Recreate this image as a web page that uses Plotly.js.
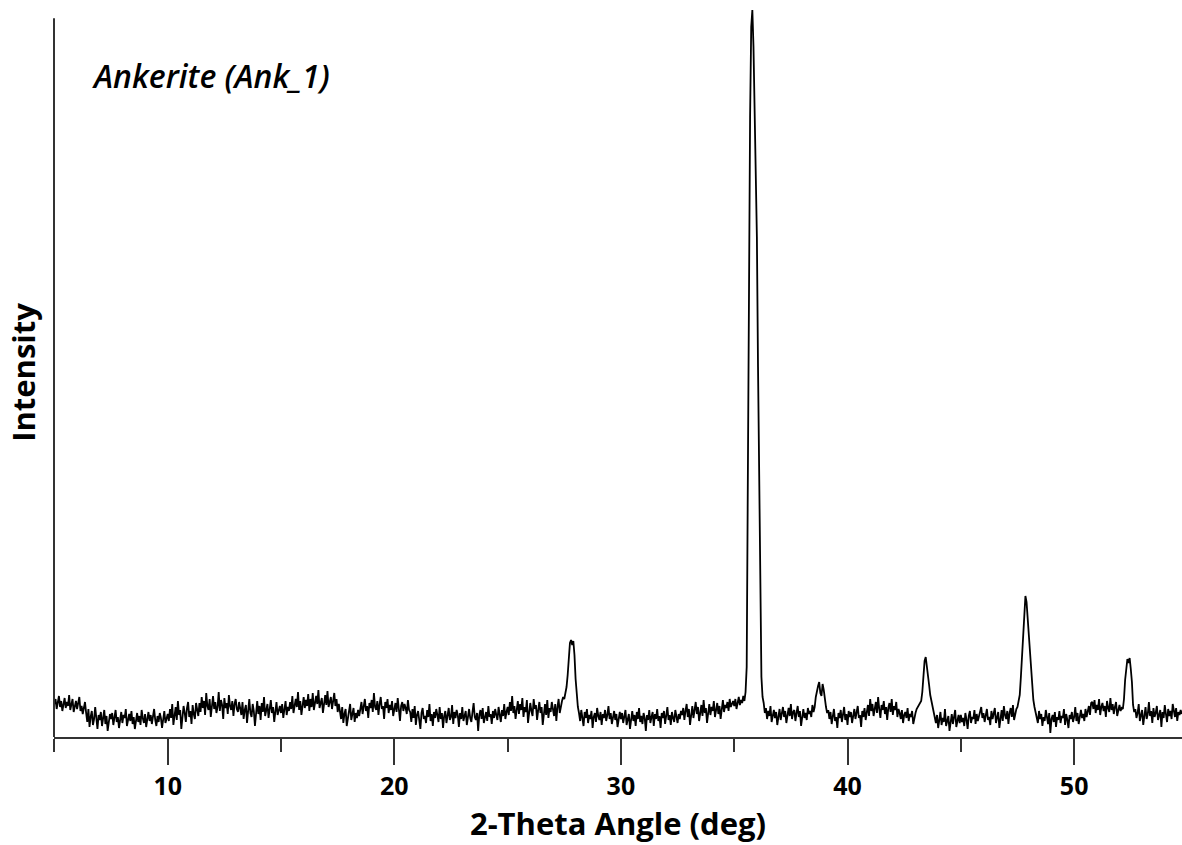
<!DOCTYPE html>
<html>
<head>
<meta charset="utf-8">
<script src="https://cdn.plot.ly/plotly-3.0.1.min.js"></script>
<style>html,body{margin:0;padding:0;background:#fff;}#chart{width:1182px;height:845px;}</style>
</head>
<body>
<div id="chart"></div>
<script>
// Scan grid (2-theta, degrees)
const thetaStart = 5.0;
const thetaStep = 0.05;

// Intensity, 5.00 - 14.95 deg
const int05to15 = [
  33,38,28,35,41,30,36,26,34,39,
  29,35,31,42,27,33,38,25,31,36,
  28,34,40,26,31,23,29,35,
  24,15,28,10,20,26,12,18,30,14,8,22,17,25,11,19,27,13,21,6,16,23,
  18,24,12,21,27,15,20,9,17,25,
  14,22,19,28,11,18,23,16,26,13,
  20,8,17,24,15,21,12,27,19,14,
  23,10,18,25,16,22,13,20,28,17,
  11,21,15,24,19,9,18,26,14,20,
  23,16,
  28,19,33,12,25,30,17,36,22,27,8,21,31,24,15,29,35,20,26,13,32,23,18,34,27,21,
  34,25,40,29,36,22,44,31,27,38,20,33,41,28,35,24,30,45,26,37,32,18,39,29,34,23,42,31,27,36,21,33,38,28,25,35,
  30,22,35,18,27,32,14,29,38,24,20,33,26,11,28,36,23,31,17,34,25,40,21,29,33,19,26,37,24,30,15,28,35,22,27,31
];
// 15.00 - 24.95 deg
const int15to25 = [
  24,33,19,29,36,22,30,26,
  35,28,41,24,33,38,30,45,27,36,22,34,40,29,37,31,43,26,
  38,30,44,27,36,41,33,47,29,35,39,24,37,42,32,46,30,36,40,28,34,44,31,38,25,33,
  26,18,30,14,23,28,11,20,25,33,17,22,29,15,24,19,27,21,
  28,35,23,32,38,26,31,19,34,29,
  37,25,44,30,27,36,22,33,40,28,
  31,18,35,29,38,24,32,27,36,21,
  30,34,25,39,28,16,31,35,26,33,
  29,23,37,27,
  25,15,28,19,31,12,22,26,17,8,
  24,29,18,21,14,27,20,33,16,23,
  11,25,19,28,22,15,30,18,24,9,
  21,26,14,23,29,17,20,32,13,25,
  19,27,22,10,24,18,30,16,21,26,
  12,23,28,19,15,25,34,20,17,24,
  6,22,27,18,29,14,21,25,16,31,
  20,23,13,26,19,28,22,17,30,24,
  15,27,21,33,18,25
];
// 25.00 - 34.95 deg
const int25to35 = [
  30,22,35,26,41,24,31,18,28,36,
  23,33,27,39,20,30,25,37,14,29,
  34,26,21,38,28,32,17,27,35,24,
  30,12,26,33,22,37,19,29,25,35,
  28,21,33,16,30,38,24,31,
  36,40,38,44,50,62,80,94,97,92,96,82,58,38,
  30,24,16,27,21,11,25,19,28,14,
  22,18,26,9,20,24,15,29,21,17,
  25,12,23,19,27,16,22,31,18,24,
  13,21,26,17,23,10,20,25,
  18,24,14,21,27,12,19,23,8,20,
  26,16,22,11,25,18,29,15,21,13,
  24,19,6,22,17,27,14,20,25,11,
  23,18,28,16,21,9,24,19,26,13,
  20,30,17,22,12,25,19,15,27,21,
  14,23,18,26,
  22,29,17,26,33,20,28,12,25,31,
  19,27,35,23,30,16,26,32,21,37,
  24,29,14,27,33,22,30,26,36,20,
  28,34,23,31,18,27,37,25,32,29,
  35,26,38,30,33,36
];
// 35.00 - 44.95 deg
const int35to45 = [
  31,38,28,35,40,32,37,34,41,36,
  45,70,270,470,620,710,727,690,620,560,500,370,240,120,60,40,
  34,24,29,18,26,21,31,15,23,27,
  19,25,12,22,28,17,24,30,20,26,
  14,23,29,21,33,18,25,27,16,24,
  31,20,26,11,22,28,19,24,17,29,
  23,26,20,32,25,30,
  40,47,51,55,44,41,53,47,36,30,24,27,
  18,25,13,22,28,16,20,9,24,19,
  27,15,22,30,17,23,12,26,20,25,
  14,21,28,18,24,31,19,22,10,26,
  20,29,17,24,32,21,
  38,26,33,21,30,35,24,40,28,19,
  32,27,36,23,30,17,29,34,25,38,
  22,31,27,35,20,28,
  24,18,27,14,22,25,19,29,16,23,20,26,13,21,24,28,
  30,32,33,36,45,64,76,80,72,64,52,42,36,30,25,
  20,14,22,9,17,25,12,19,15,28,11,18,21,6,16,23,13,20,27,10,17,22,14
];
// 45.00 - 54.75 deg
const int45to55 = [
  22,15,19,11,24,17,8,21,26,14,
  20,18,27,13,23,16,21,25,30,19,
  24,15,22,28,17,20,12,26,18,23,
  29,14,21,25,9,19,27,16,31,22,
  18,26,13,24,29,20,32,17,25,28,
  30,35,42,60,80,108,130,141,135,120,105,85,68,50,37,30,25,
  21,14,26,18,23,11,20,16,27,19,
  13,24,4,18,22,15,25,10,20,17,
  26,14,21,19,28,12,23,17,9,22,
  18,25,15,20,30,16,24,13,21,27,
  19,23,16,28,20,25,31,22,34,
  35,28,37,24,32,27,38,22,30,34,
  26,31,20,36,29,25,39,27,33,23,
  30,35,21,28,32,26,29,
  28,38,57,70,78,74,79,68,55,32,25,
  28,19,24,33,16,22,27,12,25,30,
  18,23,35,21,26,14,29,20,24,31,
  17,22,27,10,25,19,32,23,15,28,
  21,26,18,33,24,20,29,16,25,22,
  27,23
];

const xTickVals = [10, 20, 30, 40, 50];
const xTickText = ['10', '20', '30', '40', '50'];

const intensity = [].concat(int05to15, int15to25, int25to35, int35to45, int45to55);
const twoTheta = intensity.map((_, i) => +(thetaStart + i * thetaStep).toFixed(2));

const FONT = '"Open Sans", "Noto Sans", "DejaVu Sans", sans-serif';

const trace = {
  x: twoTheta,
  y: intensity,
  type: 'scatter',
  mode: 'lines',
  line: {color: '#000000', width: 1.8},
  hoverinfo: 'x+y'
};

const layout = {
  width: 1182,
  height: 845,
  margin: {l: 54, r: 0, t: 8, b: 108},
  paper_bgcolor: '#ffffff',
  plot_bgcolor: '#ffffff',
  showlegend: false,
  xaxis: {
    range: [4.982, 54.76],
    tickmode: 'array',
    tickvals: xTickVals,
    ticktext: xTickText,
    ticks: 'outside',
    ticklen: 26,
    tickwidth: 2,
    tickcolor: '#333333',
    showline: true,
    linecolor: '#333333',
    linewidth: 2,
    showgrid: false,
    zeroline: false,
    ticklabelstandoff: 0,
    tickfont: {family: FONT, size: 25, color: '#000000', weight: 700},
    minor: {tickvals: [5, 15, 25, 35, 45, 55], ticks: 'outside', ticklen: 13, tickwidth: 2, tickcolor: '#333333', showgrid: false},
    title: {text: '2-Theta Angle (deg)', font: {family: FONT, size: 31, color: '#000000', weight: 700}, standoff: 10}
  },
  yaxis: {
    range: [0, 729],
    showline: false,
    showticklabels: false,
    ticks: '',
    showgrid: false,
    zeroline: false,
    title: {text: 'Intensity', font: {family: FONT, size: 31, color: '#000000', weight: 700}, standoff: 8}
  },
  shapes: [
    {type: 'line', xref: 'paper', yref: 'paper', x0: 0, x1: 0, y0: 0, y1: 0.986,
     line: {color: '#333333', width: 2}}
  ],
  annotations: [
    {text: 'Ankerite (Ank_1)', xref: 'paper', yref: 'paper', x: 0.032, y: 0.908,
     xanchor: 'left', yanchor: 'middle', showarrow: false,
     font: {family: FONT, size: 32, color: '#000000', style: 'italic', weight: 600}}
  ]
};

Plotly.newPlot('chart', [trace], layout, {displayModeBar: false, staticPlot: true});
</script>
</body>
</html>
